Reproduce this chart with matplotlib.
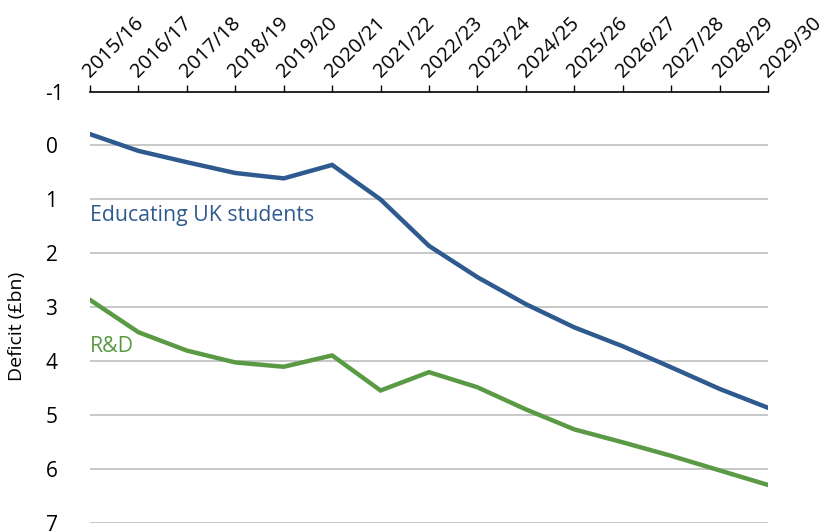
import matplotlib.pyplot as plt

plt.rcParams["font.family"] = ["Open Sans", "DejaVu Sans"]

years = ['2015/16', '2016/17', '2017/18', '2018/19', '2019/20', '2020/21', '2021/22',
         '2022/23', '2023/24', '2024/25', '2025/26', '2026/27', '2027/28', '2028/29', '2029/30']
educating = [-0.21, 0.10, 0.31, 0.51, 0.61, 0.36, 1.00, 1.86, 2.44, 2.94, 3.37, 3.72, 4.11, 4.51, 4.86]
rnd = [2.86, 3.46, 3.80, 4.02, 4.10, 3.89, 4.54, 4.20, 4.48, 4.89, 5.26, 5.50, 5.75, 6.02, 6.29]

blue = '#2F5A8F'
green = '#5A9A44'

fig = plt.figure(figsize=(8.3, 5.32), dpi=100)
ax = fig.add_axes([0.1084, 0.0164, 0.8169, 0.8116])

x = list(range(len(years)))
ax.plot(x, educating, color=blue, lw=3.2, solid_joinstyle='miter')
ax.plot(x, rnd, color=green, lw=3.2, solid_joinstyle='miter')

ax.text(0, 1.29, 'Educating UK students', color=blue, fontsize=15.3, va='center', ha='left')
ax.text(0, 3.73, 'R&D', color=green, fontsize=15.3, va='center', ha='left')

ax.set_xlim(0, len(years) - 1)
ax.set_ylim(7, -1)
ax.set_yticks(range(-1, 8))
ax.set_yticklabels([str(v) for v in range(-1, 8)], fontsize=15, ha='left')
for v in range(0, 8):
    ax.axhline(v, color='#BFBFBF', lw=1.2, zorder=0)

ax.xaxis.tick_top()
ax.set_xticks(x)
ax.set_xticklabels(years, rotation=45, ha='left', va='baseline', rotation_mode='anchor', fontsize=14.5)
ax.tick_params(axis='x', length=5, width=1, color='black', pad=5)
ax.tick_params(axis='y', length=0, pad=32)

for s in ['left', 'right', 'bottom']:
    ax.spines[s].set_visible(False)
ax.spines['top'].set_linewidth(1.2)

ax.set_ylabel('Deficit (£bn)', fontsize=14)
ax.yaxis.set_label_coords(-0.095, 0.455)

plt.savefig('out.png', dpi=100)
